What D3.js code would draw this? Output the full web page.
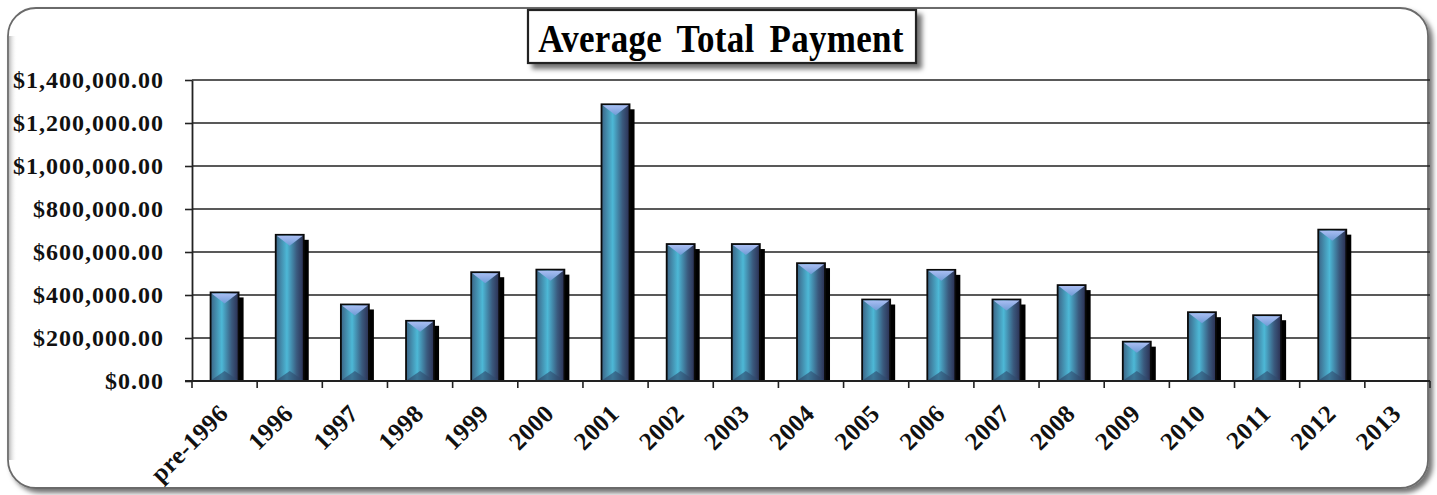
<!DOCTYPE html>
<html>
<head>
<meta charset="utf-8">
<script src="https://cdn.jsdelivr.net/npm/d3@7"></script>
<style>
  html, body { margin: 0; padding: 0; background: #fff; }
  svg { display: block; }
  .axis text { font-family: "Liberation Serif", "Times New Roman", serif; font-weight: bold; fill: #111; }
</style>
</head>
<body>
<svg id="chart" width="1437" height="495"></svg>
<script>
// data
const categories = ["pre-1996", "1996", "1997", "1998", "1999", "2000", "2001", "2002", "2003",
    "2004", "2005", "2006", "2007", "2008", "2009", "2010", "2011", "2012", "2013"];
const payments = [412000, 680000, 356000, 280000, 506000, 518000, 1287000, 637000, 637000,
    548000, 379000, 517000, 379000, 446000, 183000, 320000, 306000, 704000, 0];
const yTicks = [0, 200000, 400000, 600000, 800000, 1000000, 1200000, 1400000];
const title = "Average Total Payment";

const svg = d3.select("#chart");
const width = 1437, height = 495;
const margin = { left: 192, right: 7, top: 80, bottom: 114 };

const defs = svg.append("defs");

// frame shadow
const fs = defs.append("filter").attr("id", "frameShadow")
    .attr("x", "-5%").attr("y", "-5%").attr("width", "110%").attr("height", "115%");
fs.append("feDropShadow").attr("dx", 4).attr("dy", 4).attr("stdDeviation", 2.5)
    .attr("flood-color", "#000").attr("flood-opacity", 0.55);

const ts = defs.append("filter").attr("id", "titleShadow")
    .attr("x", "-10%").attr("y", "-30%").attr("width", "120%").attr("height", "170%");
ts.append("feDropShadow").attr("dx", 5).attr("dy", 5).attr("stdDeviation", 2.5)
    .attr("flood-color", "#000").attr("flood-opacity", 0.55);

// bar body gradient
const bg = defs.append("linearGradient").attr("id", "barGrad")
    .attr("x1", "0%").attr("x2", "100%").attr("y1", "0%").attr("y2", "0%");
bg.append("stop").attr("offset", "0%").attr("stop-color", "#3b6486");
bg.append("stop").attr("offset", "40%").attr("stop-color", "#4db8d6");
bg.append("stop").attr("offset", "75%").attr("stop-color", "#3a5a7e");
bg.append("stop").attr("offset", "100%").attr("stop-color", "#2b2f52");

const tg = defs.append("linearGradient").attr("id", "bevelGrad")
    .attr("x1", "0%").attr("x2", "0%").attr("y1", "0%").attr("y2", "100%");
tg.append("stop").attr("offset", "0%").attr("stop-color", "#a9bdf2");
tg.append("stop").attr("offset", "100%").attr("stop-color", "#6f9cd6");

// left inner shading of frame
const lg = defs.append("linearGradient").attr("id", "leftShade")
    .attr("x1", "0%").attr("x2", "100%");
lg.append("stop").attr("offset", "0%").attr("stop-color", "#bbb");
lg.append("stop").attr("offset", "100%").attr("stop-color", "#fff").attr("stop-opacity", 0);

// outer frame
svg.append("rect")
    .attr("x", 8).attr("y", 8).attr("width", 1420).attr("height", 480)
    .attr("rx", 28).attr("ry", 28)
    .attr("fill", "#fff").attr("stroke", "#6b6b6b").attr("stroke-width", 1.8)
    .attr("filter", "url(#frameShadow)");
svg.append("rect")
    .attr("x", 9).attr("y", 36).attr("width", 8).attr("height", 424)
    .attr("fill", "url(#leftShade)");

const x = d3.scaleBand()
    .domain(categories)
    .range([margin.left, width - margin.right])
    .paddingInner(0.57)
    .paddingOuter(0.285);

const y = d3.scaleLinear()
    .domain([0, 1400000])
    .range([height - margin.bottom, margin.top]);

// gridlines
svg.append("g")
    .selectAll("line")
    .data(yTicks.slice(1))
    .join("line")
    .attr("x1", margin.left).attr("x2", width - margin.right)
    .attr("y1", d => y(d)).attr("y2", d => y(d))
    .attr("stroke", "#222").attr("stroke-width", 1.6);

// y axis
const fmt = d => "$" + d3.format(",.2f")(d);
const yAxis = svg.append("g")
    .attr("class", "axis")
    .attr("transform", `translate(${margin.left},0)`)
    .call(d3.axisLeft(y).tickValues(yTicks).tickFormat(fmt).tickSize(7).tickSizeOuter(0).tickPadding(21));
yAxis.selectAll("text").style("font-size", "24px").style("letter-spacing", "1px");
yAxis.selectAll("line").attr("stroke", "#222").attr("stroke-width", 1.6);
yAxis.select(".domain").attr("stroke", "#222").attr("stroke-width", 1.8);

// bars
const bw = x.bandwidth();
const bars = svg.append("g").selectAll("g")
    .data(categories.map((c, i) => ({ cat: c, val: payments[i] })))
    .join("g")
    .attr("transform", d => `translate(${x(d.cat)},0)`);

bars.append("rect")
    .attr("x", 5).attr("y", d => y(d.val) + 5)
    .attr("width", bw).attr("height", d => Math.max(0, y(0) - y(d.val) - 4))
    .attr("fill", "#000");

bars.append("rect")
    .attr("x", 0).attr("y", d => y(d.val))
    .attr("width", bw).attr("height", d => y(0) - y(d.val))
    .attr("fill", "url(#barGrad)")
    .attr("stroke", "#0a0a0a").attr("stroke-width", 1.8);

bars.filter(d => d.val > 0).append("path")
    .attr("d", d => {
        const t = y(d.val) + 1;
        return `M1,${t} L${bw - 1},${t} L${bw / 2},${t + 10} Z`;
    })
    .attr("fill", "url(#bevelGrad)");

bars.filter(d => d.val > 0).append("path")
    .attr("d", d => {
        const b = y(0) - 1;
        return `M1,${b} L${bw - 1},${b} L${bw / 2},${b - 9} Z`;
    })
    .attr("fill", "#2f4a6c").attr("opacity", 0.6);

// x axis
const xAxis = svg.append("g")
    .attr("class", "axis")
    .attr("transform", `translate(0,${y(0)})`);
xAxis.append("line")
    .attr("x1", margin.left - 7).attr("x2", width - margin.right)
    .attr("stroke", "#222").attr("stroke-width", 1.8);
const step = x.step();
xAxis.selectAll(".tk")
    .data(d3.range(categories.length + 1))
    .join("line")
    .attr("class", "tk")
    .attr("x1", i => margin.left + i * step).attr("x2", i => margin.left + i * step)
    .attr("y1", 0).attr("y2", 7)
    .attr("stroke", "#222").attr("stroke-width", 1.6);
xAxis.selectAll("text")
    .data(categories)
    .join("text")
    .attr("text-anchor", "end")
    .attr("transform", d => `translate(${x(d) + bw / 2 + 5},${34}) rotate(-45)`)
    .style("font-size", "25px")
    .style("letter-spacing", "0.4px")
    .text(d => d);

// title box
const tb = svg.append("g");
tb.append("rect")
    .attr("x", 528).attr("y", 10).attr("width", 388).attr("height", 53)
    .attr("fill", "#fff").attr("stroke", "#222").attr("stroke-width", 2.2)
    .attr("filter", "url(#titleShadow)");
tb.append("text")
    .attr("transform", "translate(721,52) scale(1,1.15)")
    .attr("text-anchor", "middle")
    .style("font-family", "'Liberation Serif', 'Times New Roman', serif")
    .style("font-weight", "bold")
    .style("font-size", "35px")
    .style("word-spacing", "6px")
    .style("letter-spacing", "0.3px")
    .attr("fill", "#000")
    .text(title);
</script>
</body>
</html>
